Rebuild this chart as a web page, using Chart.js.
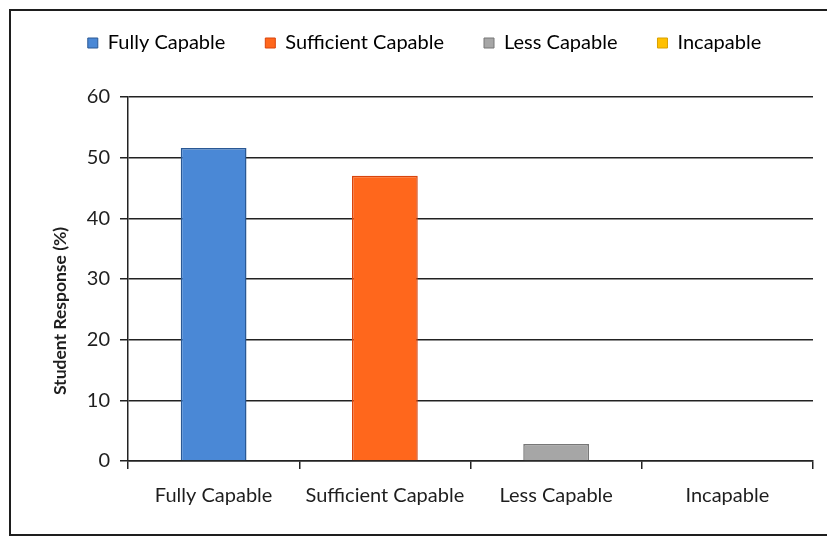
<!DOCTYPE html>
<html>
<head>
<meta charset="utf-8">
<script src="https://cdn.jsdelivr.net/npm/chart.js@4.4.0/dist/chart.umd.min.js"></script>
<style>
  html, body { margin: 0; padding: 0; background: #fff; }
  #wrap { position: relative; width: 827px; height: 538px; overflow: hidden; }
  #frame { position: absolute; left: 9px; top: 9px; width: 830px; height: 523px; border: 2px solid #1e1e1e; }
  #chart { position: absolute; left: 0; top: 0; }
</style>
</head>
<body>
<div id="wrap">
  <div id="frame"></div>
  <canvas id="chart" width="827" height="538"></canvas>
</div>
<script>
// Datos del gráfico
const categorias = ['Fully Capable', 'Sufficient Capable', 'Less Capable', 'Incapable'];
const respuestas = [51.6, 47.0, 2.8, 0];
const colores = ['#4a88d6', '#ff671c', '#a6a6a6', '#ffc000'];
const bordes = ['#2a5894', '#d9440c', '#777777', '#d9a000'];
const ticksY = [0, 10, 20, 30, 40, 50, 60];
const tituloY = 'Student Response (%)';

const fuente = 'Lato, "Open Sans", sans-serif';

// Ajustar altura y posición de la leyenda
const ajusteLeyenda = {
    id: 'ajusteLeyenda',
    beforeInit(chart) {
        const fitOriginal = chart.legend.fit;
        chart.legend.fit = function () {
            fitOriginal.bind(chart.legend)();
            this.height = 94;
        };
    },
    afterLayout(chart) {
        chart.legend.left += 16;
        chart.legend.right += 16;
    }
};

// Título del eje Y, un poco por debajo del centro como en el original
const tituloEje = {
    id: 'tituloEje',
    afterDraw(chart) {
        const { ctx, chartArea } = chart;
        ctx.save();
        ctx.translate(60, (chartArea.top + chartArea.bottom) / 2 + 32);
        ctx.rotate(-Math.PI / 2);
        ctx.font = 'bold 17.5px ' + fuente;
        ctx.fillStyle = '#1e1e1e';
        ctx.textAlign = 'center';
        ctx.textBaseline = 'middle';
        ctx.fillText(tituloY, 0, 0);
        ctx.restore();
    }
};

const ctx = document.getElementById('chart').getContext('2d');
new Chart(ctx, {
    type: 'bar',
    data: {
        labels: categorias,
        datasets: [{
            label: tituloY,
            data: respuestas,
            backgroundColor: colores,
            borderColor: bordes,
            borderWidth: 1.5,
            categoryPercentage: 0.8,
            barPercentage: 0.48
        }]
    },
    options: {
        responsive: false,
        animation: false,
        layout: { padding: { left: 14, right: 14, top: 3, bottom: 17 } },
        plugins: {
            tooltip: { enabled: false },
            legend: {
                position: 'top',
                labels: {
                    boxWidth: 10,
                    boxHeight: 10,
                    padding: 30,
                    color: '#1e1e1e',
                    font: { family: fuente, size: 20 },
                    generateLabels: () => categorias.map((c, i) => ({
                        text: c + '\u2002',
                        fillStyle: colores[i],
                        strokeStyle: bordes[i],
                        lineWidth: 1,
                        index: i
                    }))
                }
            }
        },
        scales: {
            x: {
                grid: {
                    offset: true,
                    drawOnChartArea: false,
                    drawTicks: true,
                    tickLength: 8,
                    color: '#222',
                    lineWidth: 1.5
                },
                border: { color: '#222', width: 1.5 },
                ticks: {
                    color: '#1e1e1e',
                    padding: 15,
                    font: { family: fuente, size: 20 }
                },
                afterFit(scale) { scale.height = 60; }
            },
            y: {
                min: 0,
                max: 60,
                afterBuildTicks(scale) {
                    scale.ticks = ticksY.map(v => ({ value: v }));
                },
                grid: {
                    color: '#222',
                    lineWidth: 1.5,
                    drawTicks: true,
                    tickLength: 8
                },
                border: { color: '#222', width: 1.5 },
                ticks: {
                    color: '#1e1e1e',
                    padding: 10,
                    font: { family: fuente, size: 20 }
                },
                afterFit(scale) { scale.width = 114; }
            }
        }
    },
    plugins: [ajusteLeyenda, tituloEje]
});
</script>
</body>
</html>
